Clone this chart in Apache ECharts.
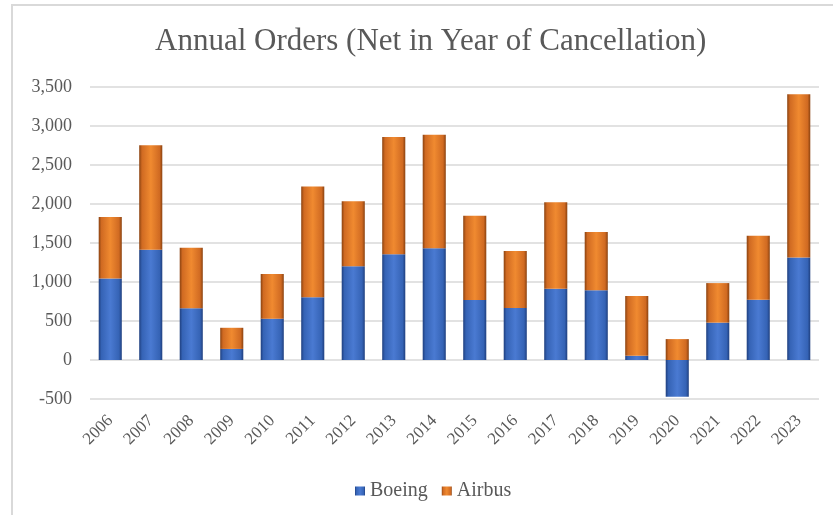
<!DOCTYPE html>
<html>
<head>
<meta charset="utf-8">
<script src="https://cdn.jsdelivr.net/npm/echarts@6/dist/echarts.min.js"></script>
<style>
html,body{margin:0;padding:0;background:#fff;}
#chart{width:833px;height:515px;}
</style>
</head>
<body>
<div id="chart"></div>
<script>
const years = ['2006','2007','2008','2009','2010','2011','2012','2013','2014','2015','2016','2017','2018','2019','2020','2021','2022','2023'];
const boeing = [1044,1413,662,142,530,805,1203,1355,1432,768,668,912,893,54,-471,479,774,1314];
const airbus = [790,1341,777,271,574,1419,833,1503,1456,1080,731,1109,747,768,268,507,820,2094];
const yTicks = {min:-500, max:3500, interval:500};

const serif = '"Liberation Serif", "Times New Roman", serif';
function grad(edge, mid, light){
  return new echarts.graphic.LinearGradient(0,0,1,0,[
    {offset:0, color:edge},{offset:0.12, color:mid},{offset:0.5, color:light},
    {offset:0.88, color:mid},{offset:1, color:edge}]);
}
const chart = echarts.init(document.getElementById('chart'));
chart.setOption({
  backgroundColor:'#fff',
  animation:false,
  graphic:[{type:'rect', shape:{x:12,y:5,width:900,height:600},
    style:{fill:'none', stroke:'#d9d9d9', lineWidth:2}}],
  title:{text:'Annual Orders (Net in Year of Cancellation)', left:150, top:21,
    textStyle:{fontFamily:serif, fontSize:31, fontWeight:'normal', color:'#595959'}},
  legend:{data:['Boeing','Airbus'], top:476, left:350, itemWidth:10, itemHeight:9, itemGap:14,
    icon:'rect', textStyle:{fontFamily:serif, fontSize:20, color:'#595959'}},
  grid:{left:90, right:14, top:87, bottom:116},
  xAxis:{type:'category', data:years,
    axisLine:{show:false, onZero:false}, axisTick:{show:false},
    axisLabel:{rotate:45, margin:19, fontFamily:serif, fontSize:17, color:'#595959'}},
  yAxis:{type:'value', min:yTicks.min, max:yTicks.max, interval:yTicks.interval,
    axisLine:{show:false}, axisTick:{show:false},
    splitLine:{lineStyle:{color:'#d9d9d9', width:1.5}},
    axisLabel:{margin:18, fontFamily:serif, fontSize:18, color:'#595959',
      formatter:v=>v.toLocaleString('en-US')}},
  series:[
    {name:'Boeing', type:'bar', stack:'t', data:boeing, barWidth:'57%',
      itemStyle:{color:grad('#1f3f7e','#3563b5','#4a7ad2')}},
    {name:'Airbus', type:'bar', stack:'t', data:airbus, barWidth:'57%',
      itemStyle:{color:grad('#8a4210','#d06a22','#f08a30')}}
  ]
});
</script>
</body>
</html>
